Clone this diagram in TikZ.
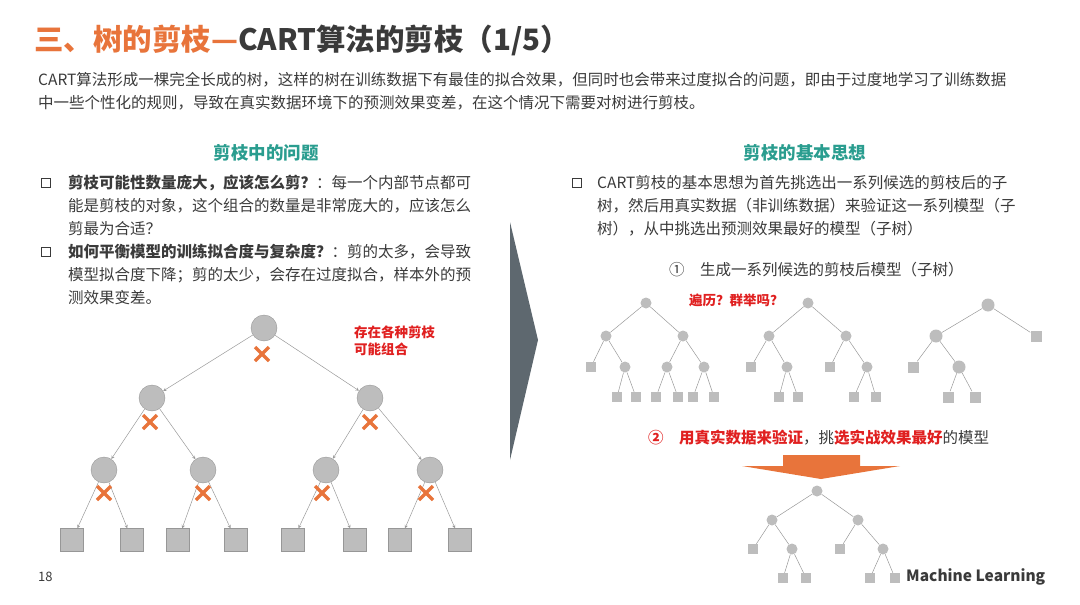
\documentclass[tikz,border=0pt]{standalone}
\usepackage{fontspec}
\setmainfont{Noto Sans CJK SC}
\usetikzlibrary{positioning}
\definecolor{ttl}{HTML}{E8743B}
\definecolor{dk}{HTML}{3A3A3A}
\definecolor{teal}{HTML}{2A9D8F}
\definecolor{rd}{HTML}{E02020}
\definecolor{nd}{HTML}{BDBDBD}
\definecolor{slate}{HTML}{5E686F}
\tikzset{
 txt/.style={anchor=west,inner sep=0,text=dk,font=\fontsize{15.5}{17}\selectfont},
 bnode/.style={circle,fill=nd,draw=nd!80!black,minimum size=26pt,inner sep=0},
 bleaf/.style={rectangle,fill=nd,draw=nd!80!black,minimum size=23pt,inner sep=0},
 snode/.style={circle,fill=nd,minimum size=11pt,inner sep=0},
 sleaf/.style={rectangle,fill=nd,minimum size=10pt,inner sep=0},
 edge/.style={draw=gray!80,line width=0.5pt},
 xmark/.style={draw=ttl,line width=3.5pt},
 bul/.style={draw=dk,line width=1.3pt,minimum size=9pt,inner sep=0},
}
\begin{document}
\begin{tikzpicture}[x=1pt,y=-1pt]
\useasboundingbox (0,0) rectangle (1080,605);
\node[anchor=west,inner sep=0,font=\bfseries\fontsize{29.5}{31}\selectfont] (title) at (34,40) {\textcolor{ttl}{三、树的剪枝—}\textcolor{dk}{CART算法的剪枝（1/5）}};
\node[txt] (p1) at (38,80) {CART算法形成一棵完全长成的树，这样的树在训练数据下有最佳的拟合效果，但同时也会带来过度拟合的问题，即由于过度地学习了训练数据};
\node[txt] (p2) at (38,103) {中一些个性化的规则，导致在真实数据环境下的预测效果变差，在这个情况下需要对树进行剪枝。};
\node[text=teal,font=\bfseries\fontsize{17.5}{19}\selectfont] (h1) at (266,153) {剪枝中的问题};
\node[text=teal,font=\bfseries\fontsize{17.5}{19}\selectfont] (h2) at (805,153) {剪枝的基本思想};
\node[bul] (b1) at (46,183) {};
\node[bul] (b2) at (46,252) {};
\node[txt] (l1) at (68,183) {\textbf{剪枝可能性数量庞大，应该怎么剪？}：每一个内部节点都可};
\node[txt] (l2) at (68,206) {能是剪枝的对象，这个组合的数量是非常庞大的，应该怎么};
\node[txt] (l3) at (68,229) {剪最为合适？};
\node[txt] (l4) at (68,252) {\textbf{如何平衡模型的训练拟合度与复杂度？}：剪的太多，会导致};
\node[txt] (l5) at (68,275) {模型拟合度下降；剪的太少，会存在过度拟合，样本外的预};
\node[txt] (l6) at (68,298) {测效果变差。};
\node[bul] (b3) at (577,183) {};
\node[txt] (r1) at (597,183) {CART剪枝的基本思想为首先挑选出一系列候选的剪枝后的子};
\node[txt] (r2) at (597,206) {树，然后用真实数据（非训练数据）来验证这一系列模型（子};
\node[txt] (r3) at (597,229) {树），从中挑选出预测效果最好的模型（子树）};
\node[txt] (r4) at (669,270) {①\quad 生成一系列候选的剪枝后模型（子树）};
\node[anchor=west,inner sep=0,text=rd,font=\bfseries\itshape\fontsize{13.5}{15}\selectfont] (q) at (689,300) {遍历？群举吗？};
\node[anchor=west,inner sep=0,text=rd,font=\bfseries\fontsize{13.5}{17}\selectfont,align=left] (c) at (354,341) {存在各种剪枝\\可能组合};
\node[txt] (r5) at (648,438) {\textcolor{rd}{\textbf{②\quad 用真实数据来验证}}，挑\textcolor{rd}{\textbf{选实战效果最好}}的模型};
\node[txt,font=\fontsize{13}{15}\selectfont] (pg) at (38,577) {18};
\node[txt,font=\bfseries\fontsize{15.5}{17}\selectfont] (ml) at (906,577) {Machine Learning};
% big chevron
\fill[slate] (510,222) -- (538,340) -- (510,460) -- cycle;
% orange arrow
\fill[ttl] (783,455) -- (860,455) -- (860,466) -- (900,466) -- (821,479) -- (742,466) -- (783,466) -- cycle;
% left big tree
\node[bnode] (a) at (264,328) {};
\node[bnode] (b) at (152,398) {}; \node[bnode] (c2) at (370,398) {};
\node[bnode] (d) at (104,470) {}; \node[bnode] (e) at (203,470) {};
\node[bnode] (f) at (326,470) {}; \node[bnode] (g) at (430,470) {};
\foreach \n/\x in {d1/72,d2/132,e1/178,e2/236,f1/293,f2/355,g1/400,g2/460}{\node[bleaf] (\n) at (\x,540) {};}
\foreach \p/\q in {a/b,a/c2,b/d,b/e,c2/f,c2/g,d/d1,d/d2,e/e1,e/e2,f/f1,f/f2,g/g1,g/g2}{\draw[edge,->,>=stealth] (\p) -- (\q);}
\foreach \x/\y in {262/354,150/422,370/422,104/493,203/493,322/493,426/493}{\draw[xmark] (\x-7,\y-7) -- (\x+7,\y+7) (\x-7,\y+7) -- (\x+7,\y-7);}
% small tree 1
\node[snode] (t1) at (646,303) {};
\node[snode] (t1l) at (606,336) {}; \node[snode] (t1r) at (683,336) {};
\node[sleaf] (t1a) at (591,367) {}; \node[snode] (t1b) at (625,367) {};
\node[snode] (t1c) at (667,367) {}; \node[snode] (t1d) at (704,367) {};
\node[sleaf] (t1b1) at (617,397) {}; \node[sleaf] (t1b2) at (636,397) {};
\node[sleaf] (t1c1) at (656,397) {}; \node[sleaf] (t1c2) at (678,397) {};
\node[sleaf] (t1d1) at (693,397) {}; \node[sleaf] (t1d2) at (714,397) {};
\foreach \p/\q in {t1/t1l,t1/t1r,t1l/t1a,t1l/t1b,t1r/t1c,t1r/t1d,t1b/t1b1,t1b/t1b2,t1c/t1c1,t1c/t1c2,t1d/t1d1,t1d/t1d2}{\draw[edge] (\p) -- (\q);}
% small tree 2
\node[snode] (t2) at (808,303) {};
\node[snode] (t2l) at (769,336) {}; \node[snode] (t2r) at (846,336) {};
\node[sleaf] (t2a) at (751,367) {}; \node[snode] (t2b) at (787,367) {};
\node[sleaf] (t2c) at (830,367) {}; \node[snode] (t2d) at (867,367) {};
\node[sleaf] (t2b1) at (779,397) {}; \node[sleaf] (t2b2) at (798,397) {};
\node[sleaf] (t2d1) at (854,397) {}; \node[sleaf] (t2d2) at (876,397) {};
\foreach \p/\q in {t2/t2l,t2/t2r,t2l/t2a,t2l/t2b,t2r/t2c,t2r/t2d,t2b/t2b1,t2b/t2b2,t2d/t2d1,t2d/t2d2}{\draw[edge] (\p) -- (\q);}
% small tree 3
\node[snode,minimum size=13pt] (t3) at (988,305) {};
\node[snode,minimum size=13pt] (t3l) at (936,336) {}; \node[sleaf,minimum size=11pt] (t3r) at (1036,336) {};
\node[sleaf,minimum size=11pt] (t3a) at (913,367) {}; \node[snode,minimum size=13pt] (t3b) at (959,367) {};
\node[sleaf,minimum size=11pt] (t3b1) at (948,397) {}; \node[sleaf,minimum size=11pt] (t3b2) at (975,397) {};
\foreach \p/\q in {t3/t3l,t3/t3r,t3l/t3a,t3l/t3b,t3b/t3b1,t3b/t3b2}{\draw[edge] (\p) -- (\q);}
% bottom tree
\node[snode] (u) at (817,491) {};
\node[snode] (ul) at (772,520) {}; \node[snode] (ur) at (858,520) {};
\node[sleaf] (ua) at (753,549) {}; \node[snode] (ub) at (792,549) {};
\node[sleaf] (uc) at (840,549) {}; \node[snode] (ud) at (883,549) {};
\node[sleaf] (ub1) at (783,578) {}; \node[sleaf] (ub2) at (806,578) {};
\node[sleaf] (ud1) at (870,578) {}; \node[sleaf] (ud2) at (895,578) {};
\foreach \p/\q in {u/ul,u/ur,ul/ua,ul/ub,ur/uc,ur/ud,ub/ub1,ub/ub2,ud/ud1,ud/ud2}{\draw[edge] (\p) -- (\q);}
\end{tikzpicture}
\end{document}
